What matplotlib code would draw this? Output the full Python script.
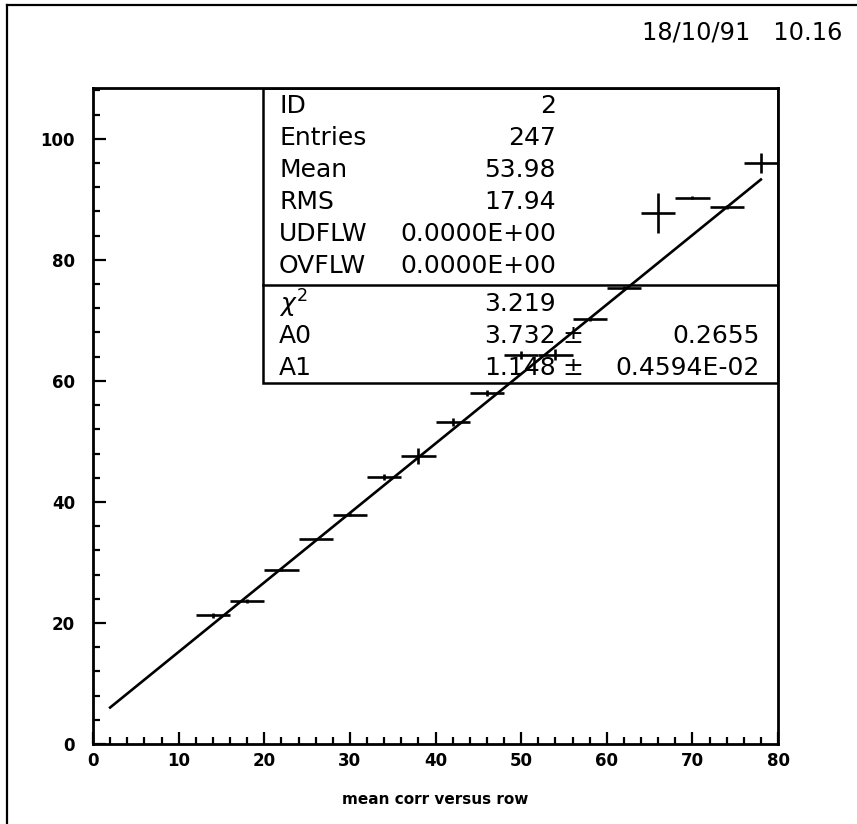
"""PAW-style profile plot: mean corr versus row, with straight-line fit."""

import matplotlib

matplotlib.use("Agg")
import matplotlib.pyplot as plt
import numpy as np
from matplotlib.lines import Line2D
from matplotlib.patches import Rectangle
from matplotlib.ticker import MultipleLocator

W, H = 857, 824

# profile bins (width 4)
bin_centers = [14, 18, 22, 26, 30, 34, 38, 42, 46, 50, 54, 58, 62, 66, 70, 74, 78]
bin_means = [21.3, 23.6, 28.8, 33.9, 37.9, 44.1, 47.6, 53.2, 58.0,
             64.3, 64.3, 70.2, 75.4, 87.7, 90.3, 88.7, 96.0]
bin_errors = [0.4, 0.3, 0.2, 0.2, 0.3, 0.5, 1.3, 0.7, 0.5,
              0.7, 0.9, 0.3, 0.3, 3.3, 0.2, 0.3, 1.6]
bin_halfwidth = 2.0

# fit results p0 + p1*x
fit_a0 = 3.732
fit_a1 = 1.148
fit_range = [2, 78]

stat_labels = ["ID", "Entries", "Mean", "RMS", "UDFLW", "OVFLW"]
stat_values = ["2", "247", "53.98", "17.94", "0.0000E+00", "0.0000E+00"]
fit_labels = [r"$\chi^2$", "A0", "A1"]
fit_values = ["3.219", "3.732", "1.148"]
fit_errors = ["", "0.2655", "0.4594E-02"]

x_label = "mean corr versus row"
date_stamp = "18/10/91   10.16"


def fx(px):
    return px / W


def fy(py):
    return 1 - py / H


def main() -> None:
    fig = plt.figure(figsize=(W / 100, H / 100), dpi=100)
    ax = fig.add_axes([fx(93), fy(744), fx(778) - fx(93), fy(88) - fy(744)])

    ax.errorbar(bin_centers, bin_means, xerr=bin_halfwidth, yerr=bin_errors,
                fmt="none", ecolor="black", elinewidth=1.9, capsize=0)
    xs = np.array(fit_range, dtype=float)
    ax.plot(xs, fit_a0 + fit_a1 * xs, color="black", lw=1.9)

    ax.set_xlim(0, 80)
    ax.set_ylim(0, 108.4)
    ax.xaxis.set_major_locator(MultipleLocator(10))
    ax.xaxis.set_minor_locator(MultipleLocator(2))
    ax.yaxis.set_major_locator(MultipleLocator(20))
    ax.yaxis.set_minor_locator(MultipleLocator(4))
    ax.tick_params(which="both", direction="in", width=1.6, color="black",
                   top=False, right=False)
    ax.tick_params(which="major", length=9)
    ax.tick_params(which="minor", length=5)
    ax.tick_params(axis="x", pad=6)
    ax.tick_params(axis="y", pad=13)
    for lab in ax.get_xticklabels() + ax.get_yticklabels():
        lab.set_fontweight("bold")
        lab.set_fontsize(12)
    for sp in ax.spines.values():
        sp.set_linewidth(2.0)

    # statistics box, top right of the axes
    x_box = (263 - 93) / 685
    y_box = (744 - 383) / 656
    y_div = (744 - 285) / 656
    ax.add_patch(Rectangle((x_box, y_box), 1 - x_box, 1 - y_box,
                           transform=ax.transAxes, fill=False, lw=1.8,
                           edgecolor="black", zorder=3))
    ax.add_line(Line2D([x_box, 1], [y_div, y_div], transform=ax.transAxes,
                       color="black", lw=1.8, zorder=3))

    fs = 18
    row_y = [106 + 32 * i for i in range(6)]
    for lab, val, py in zip(stat_labels, stat_values, row_y):
        fig.text(fx(279), fy(py), lab, fontsize=fs, va="center", ha="left")
        fig.text(fx(556), fy(py), val, fontsize=fs, va="center", ha="right")

    fit_y = [304, 336, 368]
    for lab, val, err, py in zip(fit_labels, fit_values, fit_errors, fit_y):
        fig.text(fx(279), fy(py), lab, fontsize=fs, va="center", ha="left")
        fig.text(fx(556), fy(py), val, fontsize=fs, va="center", ha="right")
        if err:
            fig.text(fx(573), fy(py), "\u00b1", fontsize=fs, va="center",
                     ha="center")
            fig.text(fx(760), fy(py), err, fontsize=fs, va="center",
                     ha="right")

    fig.text(fx(435), fy(800), x_label, fontsize=11, fontweight="bold",
             ha="center", va="center")
    fig.text(fx(842), fy(33), date_stamp, fontsize=17.3, ha="right",
             va="center")

    # page frame (left and top edges visible)
    fig.add_artist(Line2D([fx(7), fx(7)], [fy(5), 0], transform=fig.transFigure,
                          color="black", lw=1.6))
    fig.add_artist(Line2D([fx(7), 1], [fy(5), fy(5)], transform=fig.transFigure,
                          color="black", lw=1.6))

    fig.savefig("out.png", dpi=100)
    plt.close(fig)


if __name__ == "__main__":
    main()
